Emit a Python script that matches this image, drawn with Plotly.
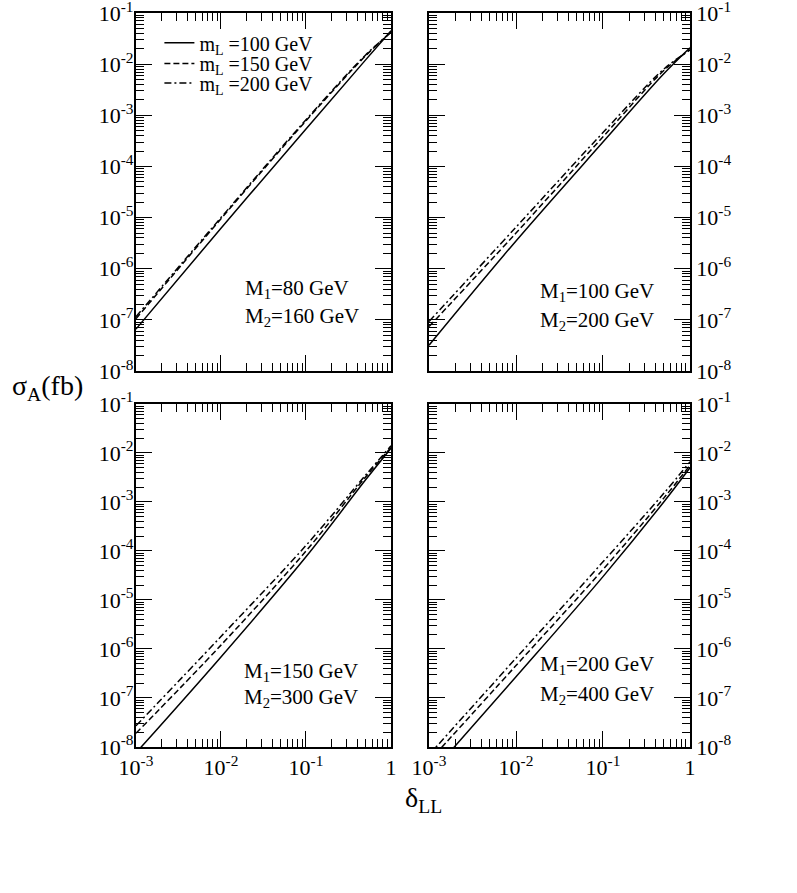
import plotly.graph_objects as go

# delta_LL sample points
delta = [1e-3, 1e-2, 1e-1, 0.5, 1.0]

# sigma_A (fb) for m_L = 100, 150, 200 GeV, one set per panel
tl_100 = [6.6e-8, 6.2e-6, 5.4e-4, 1.2e-2, 4.5e-2]
tl_150 = [1.05e-7, 9.5e-6, 7.8e-4, 1.45e-2, 4.2e-2]
tl_200 = [1.15e-7, 1.0e-5, 8.2e-4, 1.5e-2, 4.2e-2]

tr_100 = [3.2e-8, 3.5e-6, 3.0e-4, 6.5e-3, 2.1e-2]
tr_150 = [7.4e-8, 5.0e-6, 3.8e-4, 7.5e-3, 1.9e-2]
tr_200 = [9.3e-8, 6.5e-6, 4.6e-4, 8.0e-3, 1.9e-2]

bl_100 = [7.6e-9, 6.9e-7, 7.6e-5, 2.8e-3, 1.25e-2]
bl_150 = [1.9e-8, 1.2e-6, 1.0e-4, 3.2e-3, 1.3e-2]
bl_200 = [2.7e-8, 1.8e-6, 1.3e-4, 3.5e-3, 1.4e-2]

br_100 = [2.6e-9, 2.7e-7, 3.0e-5, 1.0e-3, 5.0e-3]
br_150 = [5.1e-9, 4.6e-7, 4.2e-5, 1.2e-3, 5.6e-3]
br_200 = [6.9e-9, 6.5e-7, 6.0e-5, 1.5e-3, 6.6e-3]

panel_masses = [("80", "160"), ("100", "200"), ("150", "300"), ("200", "400")]
mL_labels = ["100", "150", "200"]

xtick_vals = [1e-3, 1e-2, 1e-1, 1]
xtick_text = ["10<sup>-3</sup>", "10<sup>-2</sup>", "10<sup>-1</sup>", "1"]
ytick_vals = [1e-8, 1e-7, 1e-6, 1e-5, 1e-4, 1e-3, 1e-2, 1e-1]
ytick_text = ["10<sup>-%d</sup>" % n for n in range(8, 0, -1)]

# minor ticks at 2..9 within every decade
xminor = [m * 10.0 ** e for e in range(-3, 0) for m in range(2, 10)]
yminor = [m * 10.0 ** e for e in range(-8, -1) for m in range(2, 10)]

FONT = "Liberation Serif"
dashes = ["solid", "6px,3px", "7px,3px,2px,3px"]

panels = [
    (tl_100, tl_150, tl_200),
    (tr_100, tr_150, tr_200),
    (bl_100, bl_150, bl_200),
    (br_100, br_150, br_200),
]

xdom = [[0.1706, 0.4906], [0.5383, 0.8657]]
ydom = [[0.5845, 0.9854], [0.1635, 0.5476]]

fig = go.Figure()

legend_names = ["legend", "legend2", "legend3"]
for p, curves in enumerate(panels):
    n = p + 1
    for k, ys in enumerate(curves):
        fig.add_trace(go.Scatter(
            x=delta, y=ys, mode="lines",
            line=dict(color="black", width=1.5, dash=dashes[k], shape="spline"),
            name="m<sub>L</sub> =%s GeV" % mL_labels[k],
            showlegend=(p == 0), legend=legend_names[k],
            xaxis="x%d" % n, yaxis="y%d" % n))

axis_common = dict(
    type="log", showgrid=False, zeroline=False, automargin=False,
    showline=True, linecolor="black", linewidth=2, mirror="allticks",
    ticks="inside", ticklen=16, tickwidth=1.2, tickcolor="black",
    ticklabeloverflow="allow",
    tickfont=dict(family=FONT, size=22, color="black"),
)

layout = {}
for p in range(4):
    n = p + 1
    col = p % 2
    row = p // 2
    xa = dict(axis_common, domain=xdom[col], range=[-3, 0],
              anchor="y%d" % n, tickmode="array",
              tickvals=xtick_vals, ticktext=xtick_text,
              minor=dict(ticks="inside", ticklen=8, tickwidth=1.2,
                         tickcolor="black", tickmode="array", tickvals=xminor),
              showticklabels=(row == 1))
    ya = dict(axis_common, domain=ydom[row], range=[-8, -1],
              anchor="x%d" % n, tickmode="array",
              tickvals=ytick_vals, ticktext=ytick_text,
              minor=dict(ticks="inside", ticklen=8, tickwidth=1.2,
                         tickcolor="black", tickmode="array", tickvals=yminor),
              side="left" if col == 0 else "right",
              ticklabelstandoff=-4 if col == 0 else 0)
    layout["xaxis" if n == 1 else "xaxis%d" % n] = xa
    layout["yaxis" if n == 1 else "yaxis%d" % n] = ya

fig.update_layout(**layout)

annotations = []
text_pos = [(0.305, 0.676, 0.645), (0.675, 0.673, 0.641),
            (0.304, 0.248, 0.218), (0.675, 0.255, 0.222)]
for p, (m1, m2) in enumerate(panel_masses):
    x0, y1, y2 = text_pos[p]
    annotations.append(dict(x=x0, y=y1, xref="paper", yref="paper",
                            text="M<sub>1</sub>=%s GeV" % m1, showarrow=False,
                            xanchor="left", yanchor="middle",
                            font=dict(family=FONT, size=21, color="black")))
    annotations.append(dict(x=x0, y=y2, xref="paper", yref="paper",
                            text="M<sub>2</sub>=%s GeV" % m2, showarrow=False,
                            xanchor="left", yanchor="middle",
                            font=dict(family=FONT, size=21, color="black")))

annotations.append(dict(x=0.012, y=0.566, xref="paper", yref="paper",
                        text="σ<sub>A</sub>(fb)", showarrow=False,
                        xanchor="left", yanchor="middle",
                        font=dict(family=FONT, size=28, color="black")))
annotations.append(dict(x=0.506, y=0.105, xref="paper", yref="paper",
                        text="δ<sub>LL</sub>", showarrow=False,
                        xanchor="left", yanchor="middle",
                        font=dict(family=FONT, size=28, color="black")))

leg_common = dict(x=0.2, xanchor="left", yanchor="middle",
                  bgcolor="rgba(0,0,0,0)", itemwidth=30,
                  font=dict(family=FONT, size=20, color="black"))
fig.update_layout(
    width=797, height=893,
    margin=dict(l=0, r=0, t=0, b=0, autoexpand=False),
    paper_bgcolor="white", plot_bgcolor="white",
    showlegend=True,
    legend=dict(leg_common, y=0.952),
    legend2=dict(leg_common, y=0.929),
    legend3=dict(leg_common, y=0.907),
    annotations=annotations,
)

fig.write_html("out.html", config={"displayModeBar": False},
               post_script="document.body.style.margin='0';")
